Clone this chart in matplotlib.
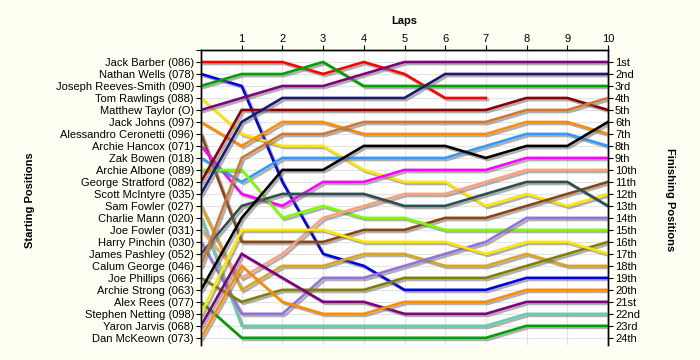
import matplotlib
matplotlib.use("Agg")
import matplotlib.pyplot as plt
import matplotlib.patheffects as pe

plt.rcParams["font.family"] = ["Liberation Sans", "DejaVu Sans"]
plt.rcParams["font.size"] = 8

laps = list(range(11))

drivers = [
    "Jack Barber (086)", "Nathan Wells (078)", "Joseph Reeves-Smith (090)",
    "Tom Rawlings (088)", "Matthew Taylor (O)", "Jack Johns (097)",
    "Alessandro Ceronetti (096)", "Archie Hancox (071)", "Zak Bowen (018)",
    "Archie Albone (089)", "George Stratford (082)", "Scott McIntyre (035)",
    "Sam Fowler (027)", "Charlie Mann (020)", "Joe Fowler (031)",
    "Harry Pinchin (030)", "James Pashley (052)", "Calum George (046)",
    "Joe Phillips (066)", "Archie Strong (063)", "Alex Rees (077)",
    "Stephen Netting (098)", "Yaron Jarvis (068)", "Dan McKeown (073)",
]

finish_labels = [
    "1st", "2nd", "3rd", "4th", "5th", "6th", "7th", "8th", "9th", "10th",
    "11th", "12th", "13th", "14th", "15th", "16th", "17th", "18th", "19th",
    "20th", "21st", "22nd", "23rd", "24th",
]

# position at each lap (lap 0 = grid); Barber retired after lap 7
barber     = [1, 1, 1, 2, 1, 2, 4, 4]
wells      = [2, 3, 11, 17, 18, 20, 20, 20, 19, 19, 19]
reeves     = [3, 2, 2, 1, 3, 3, 3, 3, 3, 3, 3]
rawlings   = [4, 7, 8, 8, 10, 11, 11, 13, 12, 13, 12]
taylor     = [5, 4, 3, 3, 2, 1, 1, 1, 1, 1, 1]
johns      = [6, 8, 6, 6, 7, 7, 7, 7, 6, 6, 7]
ceronetti  = [7, 16, 16, 16, 15, 15, 14, 14, 13, 12, 11]
hancox     = [8, 12, 13, 11, 11, 10, 10, 10, 9, 9, 9]
bowen      = [9, 11, 9, 9, 9, 9, 9, 8, 7, 7, 8]
albone     = [10, 10, 14, 13, 14, 14, 15, 15, 15, 15, 15]
stratford  = [11, 5, 5, 5, 5, 5, 5, 5, 4, 4, 5]
mcintyre   = [12, 6, 4, 4, 4, 4, 2, 2, 2, 2, 2]
s_fowler   = [13, 20, 18, 18, 17, 17, 18, 18, 17, 18, 18]
mann       = [14, 23, 23, 23, 23, 23, 23, 23, 22, 22, 22]
j_fowler   = [15, 19, 17, 14, 13, 12, 12, 11, 10, 10, 10]
pinchin    = [16, 22, 22, 19, 19, 18, 17, 16, 14, 14, 14]
pashley    = [17, 13, 12, 12, 12, 13, 13, 12, 11, 11, 13]
george     = [18, 9, 7, 7, 6, 6, 6, 6, 5, 5, 4]
phillips   = [19, 21, 20, 20, 20, 19, 19, 19, 18, 17, 16]
strong     = [20, 14, 10, 10, 8, 8, 8, 9, 8, 8, 6]
rees       = [21, 24, 24, 24, 24, 24, 24, 24, 23, 23, 23]
netting    = [22, 15, 15, 15, 16, 16, 16, 17, 16, 16, 17]
jarvis     = [23, 17, 19, 21, 21, 22, 22, 22, 21, 21, 21]
mckeown    = [24, 18, 21, 22, 22, 21, 21, 21, 20, 20, 20]

series = [barber, wells, reeves, rawlings, taylor, johns, ceronetti, hancox,
          bowen, albone, stratford, mcintyre, s_fowler, mann, j_fowler,
          pinchin, pashley, george, phillips, strong, rees, netting, jarvis,
          mckeown]

colors = [
    "#FF0000", "#0000E0", "#00A000", "#FFE600", "#800080", "#FF8C00",
    "#8B4513", "#FF00FF", "#3399FF", "#7CFC00", "#8B0000", "#191970",
    "#DAA520", "#66CDAA", "#FFA07A", "#9370DB", "#2F4F4F", "#D07830",
    "#808000", "#000000", "#00A000", "#FFE600", "#800080", "#FF8C00",
]

fig = plt.figure(figsize=(7, 3.6), dpi=100, facecolor="#FFFFF4")
ax = fig.add_axes([201 / 700, 15 / 360, 407 / 700, 295 / 360])
ax.set_facecolor("white")

shadow = [pe.SimpleLineShadow(offset=(1.5, -1.5), shadow_color="#707070", alpha=0.55),
          pe.Normal()]
for pos, col in zip(series, colors):
    ax.plot(laps[:len(pos)], pos, color=col, lw=1.9, solid_joinstyle="miter",
            path_effects=shadow, zorder=3)

ax.set_xlim(0, 10)
ax.set_ylim(24.6, 0)

ax.xaxis.tick_top()
ax.xaxis.set_label_position("top")
ax.set_xticks(range(1, 11))
ax.set_xticklabels([str(i) for i in range(1, 11)])
ax.set_xlabel("Laps", fontweight="bold", labelpad=7)

ax.set_yticks(range(0, 25))
ax.set_yticklabels([""] + drivers)

ax2 = ax.twinx()
ax2.set_ylim(24.6, 0)
ax2.set_yticks(range(1, 25))
ax2.set_yticklabels(finish_labels)

for a in (ax, ax2):
    a.spines["bottom"].set_visible(False)
    for s in ("top", "left", "right"):
        a.spines[s].set_linewidth(1.0)
        a.spines[s].set_color("black")
    a.tick_params(direction="out", length=3.5, width=0.8, pad=1.5, labelsize=8)
ax.tick_params(axis="x", pad=1)

ax.grid(True, color="#E4E4E4", lw=0.8, zorder=0)
ax.set_axisbelow(True)

fig.text(30 / 700, 1 - 200 / 360, "Starting Positions", rotation=90,
         ha="center", va="center", fontweight="bold", fontsize=8)
fig.text(670 / 700, 1 - 200 / 360, "Finishing Positions", rotation=270,
         ha="center", va="center", fontweight="bold", fontsize=8)

fig.savefig("out.png", dpi=100, facecolor=fig.get_facecolor())
